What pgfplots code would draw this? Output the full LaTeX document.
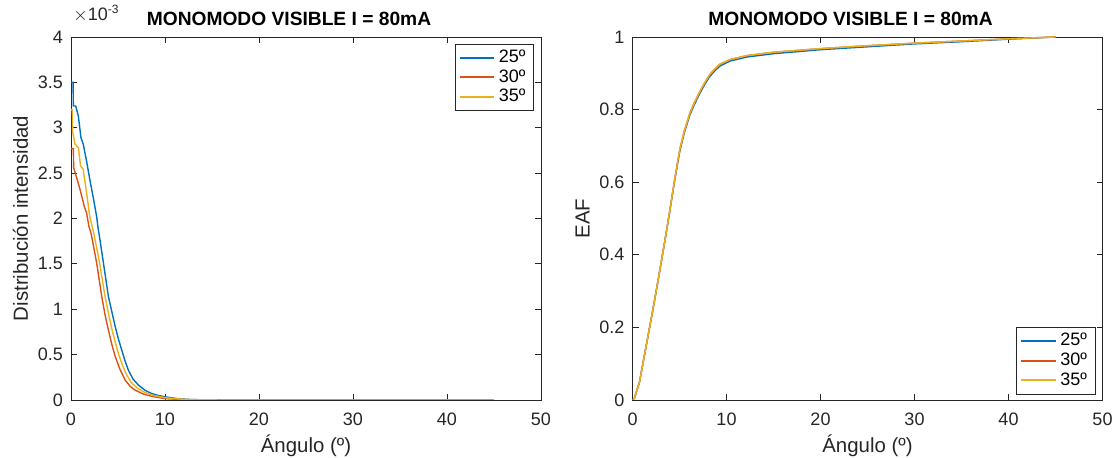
\documentclass[border=0pt]{standalone}
\usepackage{pgfplots}
\pgfplotsset{compat=1.18}
\usepackage{fontspec}
\setmainfont{Liberation Sans}
\definecolor{mblue}{rgb}{0,0.447,0.741}
\definecolor{morange}{rgb}{0.85,0.325,0.098}
\definecolor{myellow}{rgb}{0.929,0.694,0.125}
\definecolor{axgray}{rgb}{0.15,0.15,0.15}
\pgfplotsset{
  mstyle/.style={
    scale only axis, width=235pt, height=181.5pt,
    xmin=0, xmax=50, ymin=0,
    xtick={0,10,20,30,40,50},
    tick align=inside, major tick length=3pt,
    axis line style={axgray, line width=0.4pt},
    every tick/.style={axgray, line width=0.4pt},
    tick label style={font=\fontsize{9}{10}\selectfont, text=axgray},
    yticklabel style={xshift=-0.5pt},
    xticklabel style={yshift=-3pt},
    /pgf/number format/assume math mode=true,
    xlabel={Ángulo (º)},
    xlabel style={font=\fontsize{10.2}{11}\selectfont, text=axgray, yshift=2.5pt},
    ylabel style={font=\fontsize{10.2}{11}\selectfont, text=axgray},
    title style={font=\fontsize{9.6}{10}\selectfont\bfseries, yshift=-4pt, xshift=-8.5pt},
    legend cell align=left,
    legend style={font=\fontsize{9}{10}\selectfont, draw=axgray, inner xsep=2pt, inner ysep=1pt, row sep=-2pt},
    legend image post style={line width=0.9pt},
    every axis plot/.append style={line width=0.7pt},
  }
}
\begin{document}
\begin{tikzpicture}
\path[use as bounding box] (-35.5pt,-29pt) rectangle (523pt,200pt);
\begin{axis}[mstyle, name=left, ymax=4, ytick={0,0.5,1,1.5,2,2.5,3,3.5,4},
  yticklabels={0,0.5,1,1.5,2,2.5,3,3.5,4},
  ylabel={Distribución intensidad}, ylabel style={yshift=-2pt},
  title={MONOMODO VISIBLE I = 80mA},
  legend style={at={(rel axis cs:0.985,0.982)}, anchor=north east}]
\addplot[mblue] coordinates {
(0,3.50) (0.22,3.50) (0.25,3.24) (0.5,3.24) (0.78,3.13) (1.06,2.89) (1.3,2.82)
(1.66,2.63) (2.0,2.43) (2.37,2.23) (2.73,2.02) (2.9,1.88) (3.0,1.82) (3.45,1.51)
(3.98,1.14) (4.35,0.97) (4.7,0.81) (5.05,0.67) (5.4,0.55) (5.75,0.43) (6.1,0.33)
(6.6,0.23) (7.17,0.165) (7.9,0.105) (8.6,0.07) (9.3,0.05) (10,0.035)
(11.5,0.012) (13,0.004) (15,0.001) (17,0) (45,0)};
\addlegendentry{25º}
\addplot[morange] coordinates {
(0,2.77) (0.25,2.77) (0.28,2.56) (0.6,2.45) (0.96,2.32) (1.42,2.13) (1.66,2.06)
(1.91,1.91) (2.15,1.83) (2.73,1.51) (3.27,1.14) (3.62,0.94) (3.98,0.77) (4.35,0.61)
(4.7,0.48) (5.2,0.34) (5.76,0.22) (6.3,0.15) (6.8,0.11) (7.7,0.065) (8.6,0.04)
(10,0.015) (12,0.004) (14,0.001) (16,0) (45,0)};
\addlegendentry{30º}
\addplot[myellow] coordinates {
(0,3.20) (0.15,3.20) (0.17,2.96) (0.42,2.82) (0.78,2.78) (1.02,2.58) (1.3,2.54)
(1.66,2.28) (2.0,2.02) (2.4,1.85) (3.05,1.51) (3.62,1.14) (3.98,0.96) (4.33,0.79)
(4.7,0.64) (5.05,0.51) (5.45,0.39) (5.9,0.28) (6.4,0.195) (7.0,0.135) (7.8,0.085)
(8.6,0.055) (10,0.025) (12,0.007) (14,0.002) (16,0) (45,0)};
\addlegendentry{35º}
\end{axis}
\node[anchor=south west, inner sep=0pt, font=\fontsize{9}{10}\selectfont, text=axgray] at ([xshift=1pt,yshift=7pt]left.north west) {$\times$10\textsuperscript{-3}};
\begin{axis}[mstyle, at={(280.75pt,0pt)}, ymax=1, ytick={0,0.2,0.4,0.6,0.8,1},
  yticklabels={0,0.2,0.4,0.6,0.8,1},
  ylabel={EAF}, ylabel style={yshift=-2pt},
  title={MONOMODO VISIBLE I = 80mA},
  legend style={at={(rel axis cs:0.985,0.015)}, anchor=south east}]
\addplot[mblue] coordinates {
(0,0) (0.2,0.005) (0.75,0.05) (1.28,0.125) (1.82,0.2) (2.35,0.275) (2.89,0.355)
(3.42,0.435) (3.96,0.52) (4.5,0.607) (5.03,0.685) (5.5,0.735) (6.1,0.785) (6.6,0.815)
(7.17,0.845) (7.7,0.87) (8.24,0.892) (8.8,0.908) (9.3,0.92) (10.4,0.934) (12.2,0.945)
(15,0.954) (20,0.965) (25,0.973) (30,0.981) (35,0.987) (40,0.994) (45,1.0)};
\addlegendentry{25º}
\addplot[morange] coordinates {
(0,0) (0.2,0.005) (0.75,0.05) (1.28,0.125) (1.82,0.2) (2.35,0.275) (2.89,0.355)
(3.42,0.435) (3.96,0.52) (4.5,0.61) (5.03,0.69) (5.5,0.74) (6.1,0.79) (6.6,0.82)
(7.17,0.85) (7.7,0.875) (8.24,0.897) (8.8,0.913) (9.3,0.925) (10.4,0.938) (12.2,0.949)
(15,0.958) (20,0.968) (25,0.976) (30,0.983) (35,0.989) (40,0.995) (45,1.0)};
\addlegendentry{30º}
\addplot[myellow] coordinates {
(0,0) (0.2,0.005) (0.75,0.05) (1.28,0.125) (1.82,0.2) (2.35,0.275) (2.89,0.355)
(3.42,0.435) (3.96,0.52) (4.5,0.61) (5.03,0.69) (5.5,0.74) (6.1,0.79) (6.6,0.82)
(7.17,0.85) (7.7,0.875) (8.24,0.897) (8.8,0.913) (9.3,0.925) (10.4,0.938) (12.2,0.949)
(15,0.958) (20,0.968) (25,0.976) (30,0.983) (35,0.989) (40,0.995) (45,1.0)};
\addlegendentry{35º}
\end{axis}
\end{tikzpicture}
\end{document}
